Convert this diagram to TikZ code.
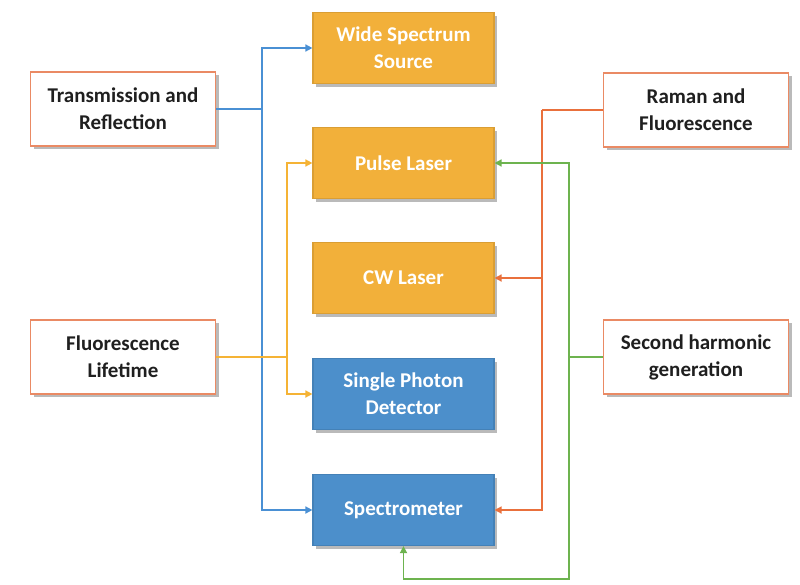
\documentclass[tikz,border=0pt]{standalone}
\usepackage{fontspec}
\setmainfont{Carlito}
\usetikzlibrary{shadows,arrows.meta}
\definecolor{gold}{HTML}{F2B03A}
\definecolor{bluebox}{HTML}{4C8FCB}
\definecolor{edgeor}{HTML}{EA8A64}
\definecolor{lblue}{HTML}{4A90D4}
\definecolor{lyel}{HTML}{F5B335}
\definecolor{lor}{HTML}{E9703C}
\definecolor{lgr}{HTML}{6DB34F}
\tikzset{
  base/.style={draw, line width=1.2pt, align=center, font=\bfseries\fontsize{21}{27}\selectfont,
    drop shadow={shadow xshift=3pt, shadow yshift=-3pt, fill=black!45, opacity=0.6}},
  appbox/.style={base, fill=white, draw=edgeor, text=black!88, minimum width=185pt, minimum height=74pt},
  goldbox/.style={base, fill=gold, draw=gold!90!black, text=white, minimum width=181pt, minimum height=71pt},
  bluebx/.style={base, fill=bluebox, draw=bluebox!90!black, text=white, minimum width=181pt, minimum height=71pt},
  conn/.style={line width=1.6pt, -{Triangle[length=7pt,width=7pt]}},
  plain/.style={line width=1.6pt}
}
\begin{document}
\begin{tikzpicture}[x=1pt,y=-1pt]
\useasboundingbox[fill=white] (0,0) rectangle (800,584);
\node[appbox] (tr) at (123,109) {Transmission and\\Reflection};
\node[appbox] (fl) at (123,357) {Fluorescence\\Lifetime};
\node[appbox] (rf) at (696,110) {Raman and\\Fluorescence};
\node[appbox] (shg) at (696,357) {Second harmonic\\generation};
\node[goldbox] (ws) at (403.5,48) {Wide Spectrum\\Source};
\node[goldbox] (pl) at (403.5,163) {Pulse Laser};
\node[goldbox] (cw) at (403.5,278) {CW Laser};
\node[bluebx] (spd) at (403.5,394) {Single Photon\\Detector};
\node[bluebx] (sp) at (403.5,510) {Spectrometer};
% blue
\coordinate (bj) at (262,109);
\draw[plain, lblue] (tr.east) -- (bj);
\draw[conn, lblue] (bj) |- (ws.west);
\draw[conn, lblue] (bj) |- (sp.west);
% yellow
\coordinate (yj) at (287,357);
\draw[plain, lyel] (fl.east) -- (yj);
\draw[conn, lyel] (yj) |- (pl.west);
\draw[conn, lyel] (yj) |- (spd.west);
% orange
\coordinate (oj) at (542,110);
\draw[plain, lor] (rf.west) -- (oj);
\draw[conn, lor] (oj) |- (cw.east);
\draw[conn, lor] (oj) |- (sp.east);
% green
\coordinate (gj) at (569,357);
\coordinate (gb) at (569,579);
\draw[plain, lgr] (shg.west) -- (gj);
\draw[conn, lgr] (gj) |- (pl.east);
\draw[conn, lgr] (gj) -- (gb) -| (sp.south);
\end{tikzpicture}
\end{document}
